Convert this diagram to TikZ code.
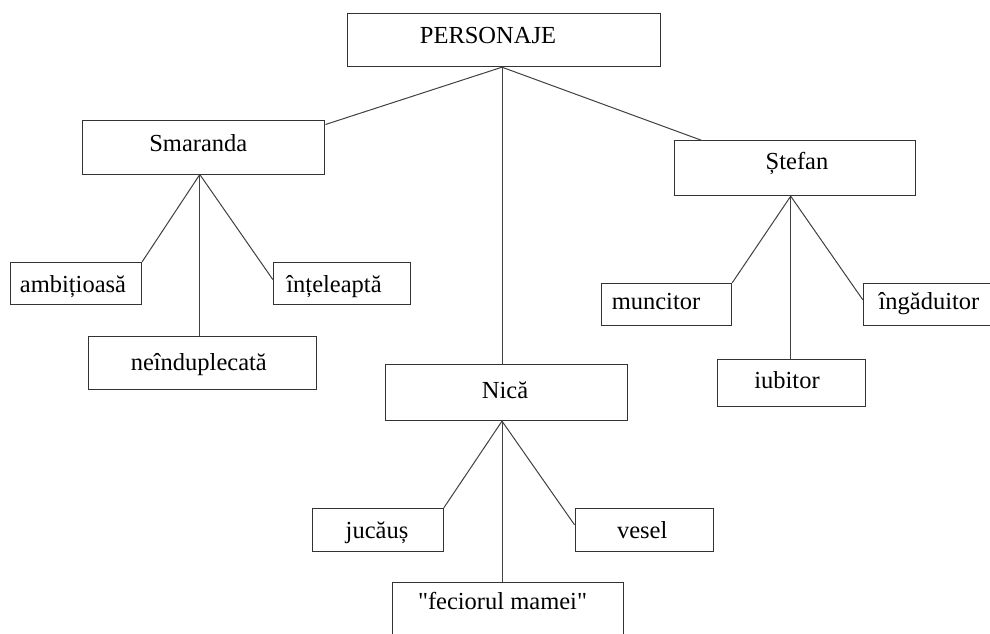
\documentclass[tikz,border=0pt]{standalone}
\usepackage{fontspec}
\setmainfont{Liberation Serif}
\begin{document}
\begin{tikzpicture}[x=1pt,y=-1pt,
  box/.style={draw=black!80, line width=1pt, inner sep=0pt},
  lbl/.style={font=\fontsize{24.5}{29}\selectfont, anchor=base, inner sep=0pt},
  conn/.style={draw=black!75, line width=1pt}]
\useasboundingbox (0,0) rectangle (990,634);
\clip (0,0) rectangle (990,634);
% boxes
\node[box, minimum width=313.4pt, minimum height=53.4pt] (personaje) at (504,40) {};
\node[box, minimum width=242.3pt, minimum height=54pt] (smaranda) at (203.8,147) {};
\node[box, minimum width=241.4pt, minimum height=55pt] (stefan) at (795,168.2) {};
\node[box, minimum width=241.6pt, minimum height=55.7pt] (nica) at (506.5,392.8) {};
\node[box, minimum width=130.7pt, minimum height=42pt] (ambitioasa) at (76.3,283.3) {};
\node[box, minimum width=137.4pt, minimum height=42pt] (inteleapta) at (342,283) {};
\node[box, minimum width=228.4pt, minimum height=53.3pt] (neinduplecata) at (202.5,363.3) {};
\node[box, minimum width=130pt, minimum height=42.4pt] (muncitor) at (666.7,304.5) {};
\node[box, minimum width=137.4pt, minimum height=42.4pt] (ingaduitor) at (932,304.5) {};
\node[box, minimum width=148pt, minimum height=46.7pt] (iubitor) at (791.7,382.7) {};
\node[box, minimum width=130.6pt, minimum height=42.7pt] (jucaus) at (378,529.7) {};
\node[box, minimum width=138.3pt, minimum height=42.7pt] (vesel) at (644.2,529.7) {};
\node[box, minimum width=230.6pt, minimum height=53pt] (feciorul) at (508,609.2) {};
% texts (baseline placed)
\node[lbl] (personaje-t) at ([xshift=-16pt, yshift=-3.3pt]personaje.center) {PERSONAJE};
\node[lbl] (smaranda-t) at ([xshift=-5.5pt, yshift=-4.7pt]smaranda.center) {Smaranda};
\node[lbl] (stefan-t) at ([xshift=2pt, yshift=-1.5pt]stefan.center) {Ștefan};
\node[lbl] (nica-t) at ([xshift=-1.5pt, yshift=-5.5pt]nica.center) {Nică};
\node[lbl] (ambitioasa-t) at ([xshift=-3.3pt, yshift=-9.4pt]ambitioasa.center) {ambițioasă};
\node[lbl] (inteleapta-t) at ([xshift=-8pt, yshift=-9.7pt]inteleapta.center) {înțeleaptă};
\node[lbl] (neinduplecata-t) at ([xshift=-3.7pt, yshift=-7.3pt]neinduplecata.center) {neînduplecată};
\node[lbl] (muncitor-t) at ([xshift=-10.7pt, yshift=-4.8pt]muncitor.center) {muncitor};
\node[lbl] (ingaduitor-t) at ([xshift=-3pt, yshift=-4.8pt]ingaduitor.center) {îngăduitor};
\node[lbl] (iubitor-t) at ([xshift=-4.7pt, yshift=-5.6pt]iubitor.center) {iubitor};
\node[lbl] (jucaus-t) at ([xshift=-1pt, yshift=-8.6pt]jucaus.center) {jucăuș};
\node[lbl] (vesel-t) at ([xshift=-2pt, yshift=-8.6pt]vesel.center) {vesel};
\node[lbl] (feciorul-t) at ([xshift=-5.5pt, yshift=-0.3pt]feciorul.center) {\textquotedbl feciorul mamei\textquotedbl};
% junctions
\coordinate (pj) at ([xshift=-2pt]personaje.south);
\coordinate (sj) at ([xshift=-4pt]smaranda.south);
\coordinate (tj) at ([xshift=-4.3pt]stefan.south);
\coordinate (nj) at ([xshift=-4.5pt]nica.south);
% connectors
\draw[conn] (pj) -- ([yshift=-5pt]smaranda.north east);
\draw[conn] (pj) -- ([xshift=27.4pt]stefan.north west);
\draw[conn] (pj) -- (pj |- nica.north);
\draw[conn] (sj) -- (ambitioasa.north east);
\draw[conn] (sj) -- ([yshift=-18pt]inteleapta.north west);
\draw[conn] (sj) -- (sj |- neinduplecata.north);
\draw[conn] (tj) -- (muncitor.north east);
\draw[conn] (tj) -- ([yshift=-17pt]ingaduitor.north west);
\draw[conn] (tj) -- (tj |- iubitor.north);
\draw[conn] (nj) -- (jucaus.north east);
\draw[conn] (nj) -- ([yshift=-17pt]vesel.north west);
\draw[conn] (nj) -- (nj |- feciorul.north);
\end{tikzpicture}
\end{document}
